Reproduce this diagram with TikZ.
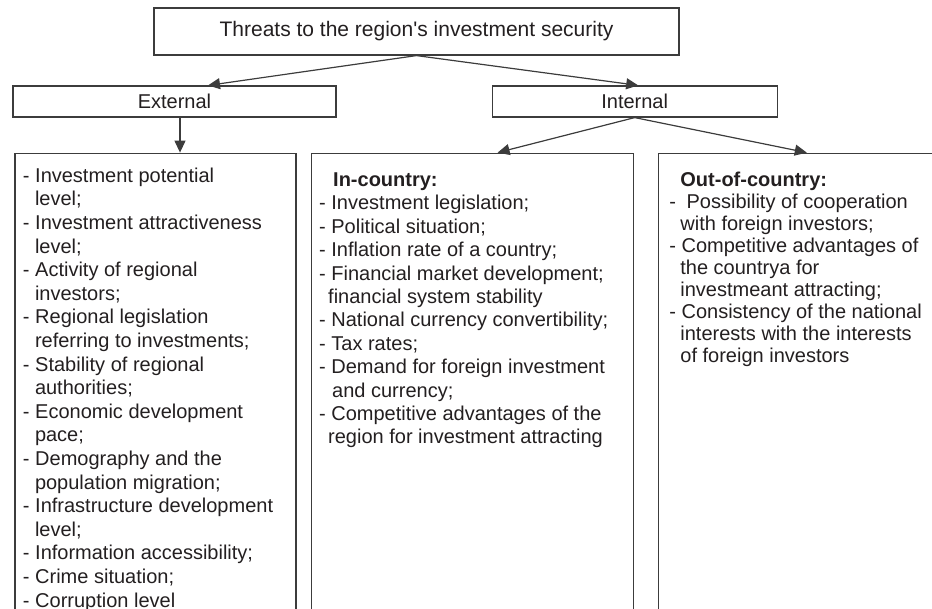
\documentclass[tikz,border=0pt]{standalone}
\usepackage{fontspec}
\setmainfont{Liberation Sans}
\usetikzlibrary{arrows.meta, positioning}
\definecolor{linegray}{RGB}{60,60,60}
\definecolor{inkgray}{RGB}{35,31,32}
\newcommand{\contline}{\hspace*{6pt}}

\begin{document}
\begin{tikzpicture}[
    headbox/.style={rectangle, draw=linegray, line width=0.6pt, text=inkgray,
                    minimum height=15.5pt, inner sep=0pt, font=\fontsize{10}{12}\selectfont},
    listbox/.style={rectangle, draw=linegray, line width=0.6pt, text=inkgray,
                    inner xsep=4pt, font=\fontsize{10}{11.8}\selectfont},
    arr/.style={-{Triangle[length=6pt, width=5.5pt]}, line width=0.6pt, linegray},
]

% page frame; the three list boxes run on below it
\useasboundingbox (0,0) rectangle (466pt,-304.5pt);
\clip (0,0) rectangle (466pt,-304.5pt);

\node[headbox, minimum width=262.5pt, minimum height=23.5pt,
      font=\fontsize{10.5}{12}\selectfont] (top) at (208.25pt,-15.75pt)
      {Threats to the region\textquotesingle s investment security};
\node[headbox, minimum width=161.5pt] (ext) at (87.25pt,-50.75pt) {External};
\node[headbox, minimum width=142.5pt, right=77.5pt of ext] (int) {Internal};

\node[listbox, inner ysep=7.3pt, below=17.5pt of ext.south west, anchor=north west,
      xshift=1pt] (extlist) {\parbox[t][240pt][t]{132.5pt}{\raggedright
- Investment potential\\
\contline level;\\
- Investment attractiveness\\
\contline level;\\
- Activity of regional\\
\contline investors;\\
- Regional legislation\\
\contline referring to investments;\\
- Stability of regional\\
\contline authorities;\\
- Economic development\\
\contline pace;\\
- Demography and the\\
\contline population migration;\\
- Infrastructure development\\
\contline level;\\
- Information accessibility;\\
- Crime situation;\\
- Corruption level}};

\node[listbox, inner ysep=9.8pt, font=\fontsize{10}{11.7}\selectfont,
      right=7pt of extlist.north east, anchor=north west] (midlist)
      {\parbox[t][240pt][t]{153pt}{\raggedright
\hspace*{7pt}\textbf{In-country:}\\
- Investment legislation;\\
- Political situation;\\
- Inflation rate of a country;\\
- Financial market development;\\
\hspace*{4.5pt}financial system stability\\
- National currency convertibility;\\
- Tax rates;\\
- Demand for foreign investment\\
\hspace*{6.5pt}and currency;\\
- Competitive advantages of the\\
\hspace*{4.5pt}region for investment attracting}};

\node[listbox, inner xsep=5.5pt, inner ysep=9.3pt, font=\fontsize{10}{11}\selectfont,
      right=12pt of midlist.north east, anchor=north west] (outlist)
      {\parbox[t][240pt][t]{139pt}{\raggedright
\hspace*{5.5pt}\textbf{Out-of-country:}\\
- \hspace{2.5pt}Possibility of cooperation\\
\hspace*{5.5pt}with foreign investors;\\
- Competitive advantages of\\
\hspace*{5.5pt}the countrya for\\
\hspace*{5.5pt}investmeant attracting;\\
- Consistency of the national\\
\hspace*{5.5pt}interests with the interests\\
\hspace*{5.5pt}of foreign investors}};

\draw[arr] (top.south) -- ([xshift=16.75pt]ext.north);
\draw[arr] (top.south) -- ([xshift=1.75pt]int.north);
\draw[arr] ([xshift=2.75pt]ext.south) -- ([xshift=2.75pt]ext.south |- extlist.north);
\draw[arr] (int.south) -- ([xshift=93.5pt]midlist.north west);
\draw[arr] (int.south) -- ([xshift=74.5pt]outlist.north west);

\end{tikzpicture}
\end{document}
